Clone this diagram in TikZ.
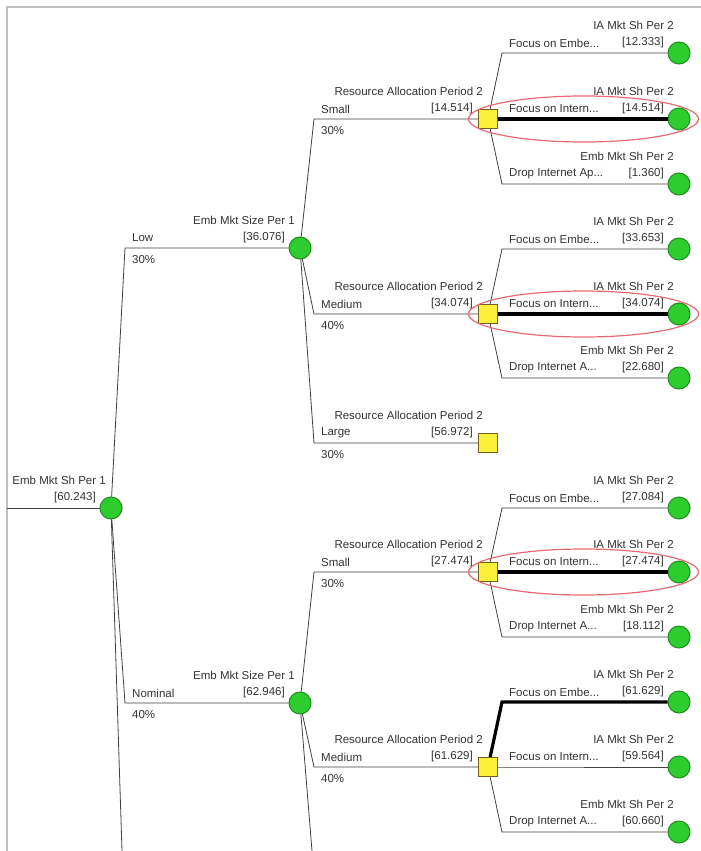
\documentclass[tikz,border=0pt]{standalone}
\usepackage{fontspec}
\setmainfont{Liberation Sans}
\usetikzlibrary{calc}

\definecolor{nodegreen}{RGB}{45,205,45}
\definecolor{nodegreenline}{RGB}{30,140,30}
\definecolor{decyellow}{RGB}{250,240,60}
\definecolor{decline}{RGB}{115,95,25}
\definecolor{ringred}{RGB}{232,105,115}

% node with its name and value above it
\newcommand{\tnode}[5]{%
  \node[#1] (#2) at (#3) {};
  \node[txt,anchor=east] (#2-t) at ([shift={(-5,-28)}]#2.center) {#4};
  \node[txt,anchor=east] (#2-v) at ([shift={(-15,-10)}]#2.center) {#5};}
% elbow connector from parent to child, with its label
\newcommand{\branch}[4][]{%
  \coordinate (#3-b) at ($(#2 |- #3)+(14,0)$);
  \draw[conn,#1] (#2) -- (#3-b) -- (#3);
  \node[txt,anchor=west] (#3-l) at ([shift={(7,-10)}]#3-b) {#4};}
\newcommand{\prob}[2]{%
  \node[txt,anchor=west] (#1-p) at ([shift={(7,12)}]#1-b) {#2};}

\begin{document}
\begin{tikzpicture}[x=1pt,y=-1pt,
  txt/.style={inner sep=0pt,text=black!80,font=\fontsize{11.5}{13}\selectfont},
  chance/.style={circle,fill=nodegreen,draw=nodegreenline,line width=1pt,minimum size=22pt,inner sep=0pt},
  decision/.style={rectangle,fill=decyellow,draw=decline,line width=1pt,minimum size=19pt,inner sep=0pt},
  conn/.style={draw=black!75,line width=0.8pt},
  best/.style={draw=black,line width=3.2pt},
  ring/.style={draw=ringred,line width=1.2pt},
  pane/.style={draw=black!25,line width=2pt}]
  \useasboundingbox[fill=white] (0,0) rectangle (701,851);
  \draw[pane] (7,851) -- (7,7) -- (701,7);

  % chance and decision nodes
  \tnode{chance}{root}{111,508}{Emb Mkt Sh Per 1}{[60.243]}
  \tnode{chance}{low}{300,248}{Emb Mkt Size Per 1}{[36.076]}
  \tnode{chance}{nom}{300,703}{Emb Mkt Size Per 1}{[62.946]}
  \tnode{decision}{ls}{488,119}{Resource Allocation Period 2}{[14.514]}
  \tnode{decision}{lm}{488,314}{Resource Allocation Period 2}{[34.074]}
  \tnode{decision}{ll}{488,443}{Resource Allocation Period 2}{[56.972]}
  \tnode{decision}{ns}{488,572}{Resource Allocation Period 2}{[27.474]}
  \tnode{decision}{nm}{488,767}{Resource Allocation Period 2}{[61.629]}

  % end nodes
  \tnode{chance}{ls1}{679,53}{IA Mkt Sh Per 2}{[12.333]}
  \tnode{chance}{ls2}{679,119}{IA Mkt Sh Per 2}{[14.514]}
  \tnode{chance}{ls3}{679,184}{Emb Mkt Sh Per 2}{[1.360]}
  \tnode{chance}{lm1}{679,249}{IA Mkt Sh Per 2}{[33.653]}
  \tnode{chance}{lm2}{679,314}{IA Mkt Sh Per 2}{[34.074]}
  \tnode{chance}{lm3}{679,378}{Emb Mkt Sh Per 2}{[22.680]}
  \tnode{chance}{ns1}{679,508}{IA Mkt Sh Per 2}{[27.084]}
  \tnode{chance}{ns2}{679,572}{IA Mkt Sh Per 2}{[27.474]}
  \tnode{chance}{ns3}{679,637}{Emb Mkt Sh Per 2}{[18.112]}
  \tnode{chance}{nm1}{679,702}{IA Mkt Sh Per 2}{[61.629]}
  \tnode{chance}{nm2}{679,767}{IA Mkt Sh Per 2}{[59.564]}
  \tnode{chance}{nm3}{679,832}{Emb Mkt Sh Per 2}{[60.660]}

  % first level
  \coordinate (in) at (7,508);
  \coordinate (rootout) at (122,851);
  \draw[conn] (in) -- (root);
  \branch{root}{low}{Low} \prob{low}{30\%}
  \branch{root}{nom}{Nominal} \prob{nom}{40\%}
  \draw[conn] (root) -- (rootout);

  % second level
  \coordinate (nomout) at (312,851);
  \branch{low}{ls}{Small} \prob{ls}{30\%}
  \branch{low}{lm}{Medium} \prob{lm}{40\%}
  \branch{low}{ll}{Large} \prob{ll}{30\%}
  \branch{nom}{ns}{Small} \prob{ns}{30\%}
  \branch{nom}{nm}{Medium} \prob{nm}{40\%}
  \draw[conn] (nom) -- (nomout);

  % decisions
  \branch{ls}{ls1}{Focus on Embe...}
  \branch[best]{ls}{ls2}{Focus on Intern...}
  \branch{ls}{ls3}{Drop Internet Ap...}
  \branch{lm}{lm1}{Focus on Embe...}
  \branch[best]{lm}{lm2}{Focus on Intern...}
  \branch{lm}{lm3}{Drop Internet A...}
  \branch{ns}{ns1}{Focus on Embe...}
  \branch[best]{ns}{ns2}{Focus on Intern...}
  \branch{ns}{ns3}{Drop Internet A...}
  \branch[best]{nm}{nm1}{Focus on Embe...}
  \branch{nm}{nm2}{Focus on Intern...}
  \branch{nm}{nm3}{Drop Internet A...}

  % marked paths
  \draw[ring] ($(ls)!0.5!(ls2)$) ellipse [x radius=115,y radius=23];
  \draw[ring] ($(lm)!0.5!(lm2)$) ellipse [x radius=115,y radius=23];
  \draw[ring] ($(ns)!0.5!(ns2)$) ellipse [x radius=115,y radius=23];
\end{tikzpicture}
\end{document}
